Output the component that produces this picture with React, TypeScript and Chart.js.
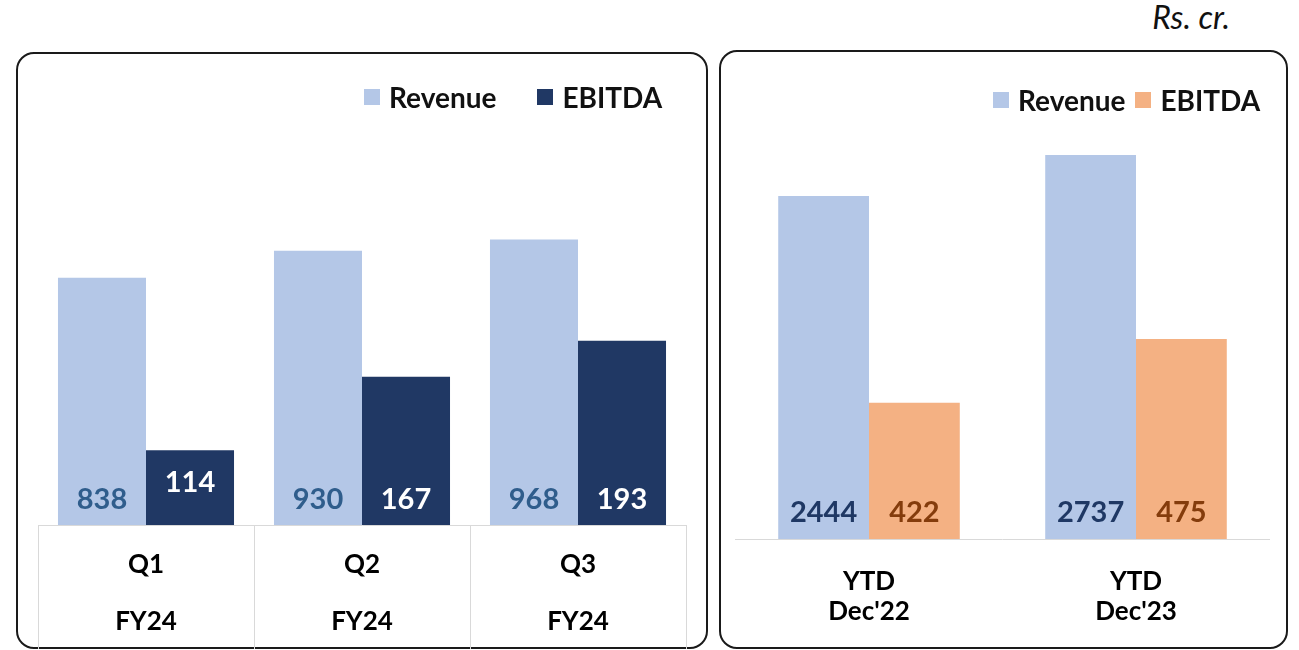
import React, { useEffect, useRef } from "react";
import { Chart, registerables } from "chart.js";

Chart.register(...registerables);

// ---- data ----
const quarterLabels = [["Q1", "FY24"], ["Q2", "FY24"], ["Q3", "FY24"]];
const quarterRevenue = [838, 930, 968];
const quarterEbitda = [114, 167, 193];

const ytdLabels = [["YTD", "Dec'22"], ["YTD", "Dec'23"]];
const ytdRevenue = [2444, 2737];
const ytdEbitda = [422, 475];

const seriesNames = ["Revenue", "EBITDA"];
const unitLabel = "Rs. cr.";

// ---- styles ----
const REV = "#B4C7E7";
const NAVY = "#203864";
const ORANGE = "#F4B183";
const FONT = "Lato, 'Open Sans', sans-serif";

const barValueLabels = {
  id: "barValueLabels",
  afterDatasetsDraw(chart: any, _args: any, opts: any) {
    const ctx = chart.ctx;
    const bottom = chart.chartArea.bottom;
    chart.data.datasets.forEach((ds: any, di: number) => {
      const meta = chart.getDatasetMeta(di);
      meta.data.forEach((bar: any, i: number) => {
        const lift = (opts.lift && opts.lift[di] && opts.lift[di][i]) || 26;
        const base = Math.min(bar.base, bottom);
        ctx.save();
        ctx.font = `bold ${opts.size || 28}px ${FONT}`;
        ctx.fillStyle = opts.colors[di];
        ctx.textAlign = "center";
        ctx.textBaseline = "middle";
        ctx.fillText(String(ds.data[i]), bar.x, base - lift);
        ctx.restore();
      });
    });
  },
};

function useChart(ref: React.RefObject<HTMLCanvasElement | null>, makeConfig: () => any) {
  useEffect(() => {
    if (!ref.current) return;
    const chart = new Chart(ref.current, makeConfig());
    return () => chart.destroy();
  }, []);
}

function Legend({ x, y, items, gap }: { x: number; y: number; items: { name: string; color: string }[]; gap: number }) {
  return (
    <div style={{ position: "absolute", left: x, top: y, display: "flex", alignItems: "center", whiteSpace: "nowrap" }}>
      {items.map((it, i) => (
        <div key={i} style={{ display: "flex", alignItems: "center", marginLeft: i === 0 ? 0 : gap }}>
          <span style={{ display: "inline-block", width: 16, height: 16, background: it.color, marginRight: 9 }} />
          <span style={{ font: `bold 28px ${FONT}`, lineHeight: "28px", color: "#111" }}>{it.name}</span>
        </div>
      ))}
    </div>
  );
}

export default function App() {
  const leftRef = useRef<HTMLCanvasElement | null>(null);
  const rightRef = useRef<HTMLCanvasElement | null>(null);

  useChart(leftRef, () => ({
    type: "bar",
    data: {
      labels: quarterLabels,
      datasets: [
        { label: seriesNames[0], data: quarterRevenue, backgroundColor: REV, yAxisID: "y", categoryPercentage: 0.815, barPercentage: 1 },
        { label: seriesNames[1], data: quarterEbitda, backgroundColor: NAVY, yAxisID: "y2", categoryPercentage: 0.815, barPercentage: 1 },
      ],
    },
    options: {
      animation: false,
      responsive: false,
      maintainAspectRatio: false,
      layout: { padding: { left: 22, right: 22, top: 60, bottom: 0 } },
      plugins: {
        legend: { display: false },
        tooltip: { enabled: false },
        barValueLabels: {
          colors: ["#2F5D8C", "#FFFFFF"],
          lift: [[25, 25, 25], [42, 25, 25]],
          size: 29,
        },
      },
      scales: {
        x: {
          grid: { drawOnChartArea: false, drawTicks: true, tickLength: 124, color: "#D9D9D9", lineWidth: 1, offset: true },
          border: { display: true, color: "#D9D9D9", width: 1 },
          ticks: {
            font: { family: FONT, weight: "bold", size: 26, lineHeight: "57px" },
            color: "#000",
            padding: -112.5,
            maxRotation: 0,
            autoSkip: false,
          },
          afterFit: (s: any) => {
            s.height = 124;
          },
        },
        y: { display: false, min: 0, max: 1400 },
        y2: { display: false, min: 60, max: 358 },
      },
    },
    plugins: [barValueLabels],
  }));

  useChart(rightRef, () => ({
    type: "bar",
    data: {
      labels: ytdLabels,
      datasets: [
        { label: seriesNames[0], data: ytdRevenue, backgroundColor: REV, yAxisID: "y", categoryPercentage: 0.68, barPercentage: 1 },
        { label: seriesNames[1], data: ytdEbitda, backgroundColor: ORANGE, yAxisID: "y2", categoryPercentage: 0.68, barPercentage: 1 },
      ],
    },
    options: {
      animation: false,
      responsive: false,
      maintainAspectRatio: false,
      layout: { padding: { left: 16.5, right: 18.5, top: 60, bottom: 0 } },
      plugins: {
        legend: { display: false },
        tooltip: { enabled: false },
        barValueLabels: {
          colors: ["#1F3864", "#843C0C"],
          lift: [[26, 26], [26, 26]],
          size: 29,
        },
      },
      scales: {
        x: {
          grid: { drawOnChartArea: false, drawTicks: false },
          border: { display: true, color: "#D9D9D9", width: 1 },
          ticks: {
            font: { family: FONT, weight: "bold", size: 26, lineHeight: "30px" },
            color: "#000",
            padding: 28,
            maxRotation: 0,
            autoSkip: false,
          },
          afterFit: (s: any) => {
            s.height = 110;
          },
        },
        y: { display: false, min: 0, max: 3057 },
        y2: { display: false, min: 309, max: 665 },
      },
    },
    plugins: [barValueLabels],
  }));

  const panel: React.CSSProperties = {
    position: "absolute",
    border: "2px solid #1a1a1a",
    borderRadius: 18,
    boxSizing: "border-box",
    background: "#fff",
  };

  return (
    <div style={{ position: "absolute", left: 0, top: 0, width: 1299, height: 650, background: "#fff", overflow: "hidden" }}>
      <div
        style={{
          position: "absolute",
          right: 69,
          top: 1,
          font: `italic 32px ${FONT}`,
          lineHeight: "32px",
          color: "#111",
          whiteSpace: "nowrap",
        }}
      >
        {unitLabel}
      </div>
      <div style={{ ...panel, left: 16, top: 52, width: 692, height: 597 }} />
      <div style={{ ...panel, left: 719, top: 50, width: 569, height: 599 }} />
      <canvas
        ref={leftRef}
        width={692}
        height={597}
        style={{ position: "absolute", left: 16, top: 52, width: 692, height: 597 }}
      />
      <canvas
        ref={rightRef}
        width={569}
        height={599}
        style={{ position: "absolute", left: 719, top: 50, width: 569, height: 599 }}
      />
      <Legend
        x={364}
        y={83}
        gap={41}
        items={[
          { name: seriesNames[0], color: REV },
          { name: seriesNames[1], color: NAVY },
        ]}
      />
      <Legend
        x={993}
        y={86}
        gap={10}
        items={[
          { name: seriesNames[0], color: REV },
          { name: seriesNames[1], color: ORANGE },
        ]}
      />
    </div>
  );
}
